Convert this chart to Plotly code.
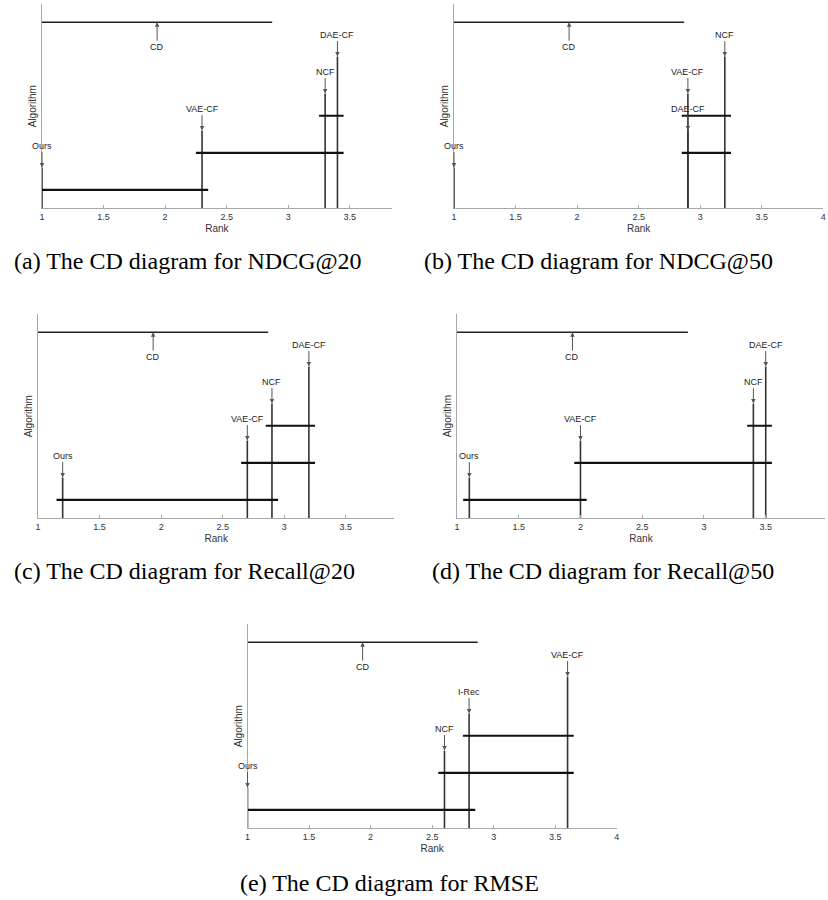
import plotly.graph_objects as go

# ---------------- data ----------------
cd_value = 1.87

a_names = ["Ours", "VAE-CF", "NCF", "DAE-CF"]
a_ranks = [1.0, 2.3, 3.3, 3.4]
a_clique_end = [2.3, 3.4, 3.4, None]

b_names = ["Ours", "DAE-CF", "VAE-CF", "NCF"]
b_ranks = [1.0, 2.9, 2.9, 3.2]
b_clique_end = [None, 3.2, 3.2, None]

c_names = ["Ours", "VAE-CF", "NCF", "DAE-CF"]
c_ranks = [1.2, 2.7, 2.9, 3.2]
c_clique_end = [2.9, 3.2, 3.2, None]

d_names = ["Ours", "VAE-CF", "NCF", "DAE-CF"]
d_ranks = [1.1, 2.0, 3.4, 3.5]
d_clique_end = [2.0, 3.5, 3.5, None]

e_names = ["Ours", "NCF", "I-Rec", "VAE-CF"]
e_ranks = [1.0, 2.6, 2.8, 3.6]
e_clique_end = [2.8, 3.6, 3.6, None]

captions = [
    "(a) The CD diagram for NDCG@20",
    "(b) The CD diagram for NDCG@50",
    "(c) The CD diagram for Recall@20",
    "(d) The CD diagram for Recall@50",
    "(e) The CD diagram for RMSE",
]
tick_vals = [1, 1.5, 2, 2.5, 3, 3.5, 4]
tick_text = ["1", "1.5", "2", "2.5", "3", "3.5", "4"]

# ---------------- layout constants ----------------
W, H = 828, 900
# (x0, x1, ytop, ybottom) in pixels, x max of the rank axis
boxes = [
    (39.3, 391.7, 4.0, 208.3, 3.842),
    (454.3, 826.3, 4.0, 208.3, 4.0),
    (35.3, 394.3, 314.0, 518.3, 3.895),
    (457.3, 828.0, 314.0, 518.3, 3.98),
    (246.3, 618.3, 624.0, 828.3, 4.0),
]
caption_pos = [(9, 261), (422, 261), (9, 571), (430, 571), (237, 883)]
Y_TOP = 5.52
CD_LEVEL = 5.03
TIP_OFFSET = 1.1
PAD = 0.05

panels = [
    (a_names, a_ranks, a_clique_end),
    (b_names, b_ranks, b_clique_end),
    (c_names, c_ranks, c_clique_end),
    (d_names, d_ranks, d_clique_end),
    (e_names, e_ranks, e_clique_end),
]

fig = go.Figure()
annotations = []
font_sans = "Liberation Sans, Arial, sans-serif"

for k, ((names, ranks, cend), (x0, x1, yt, yb, xmax)) in enumerate(zip(panels, boxes)):
    sfx = "" if k == 0 else str(k + 1)
    xa, ya = "x" + sfx, "y" + sfx

    # vertical rank lines
    vx, vy = [], []
    for i, r in enumerate(ranks):
        vx += [r, r, None]
        vy += [0, i + TIP_OFFSET, None]
    fig.add_trace(go.Scatter(x=vx, y=vy, mode="lines", xaxis=xa, yaxis=ya,
                             line=dict(color="#333333", width=1.6),
                             hoverinfo="skip", showlegend=False))
    # clique bars
    cx, cy = [], []
    for i, (r, e) in enumerate(zip(ranks, cend)):
        if e is None:
            continue
        cx += [r - PAD, e + PAD, None]
        cy += [i + 0.5, i + 0.5, None]
    fig.add_trace(go.Scatter(x=cx, y=cy, mode="lines", xaxis=xa, yaxis=ya,
                             line=dict(color="#111111", width=2.2),
                             hoverinfo="skip", showlegend=False))
    # CD bar
    fig.add_trace(go.Scatter(x=[1, 1 + cd_value], y=[CD_LEVEL, CD_LEVEL], mode="lines",
                             xaxis=xa, yaxis=ya, line=dict(color="#222222", width=1.5),
                             hoverinfo="skip", showlegend=False))

    # labels with arrows
    for i, (nm, r) in enumerate(zip(names, ranks)):
        annotations.append(dict(
            x=r, y=i + TIP_OFFSET, xref=xa, yref=ya, text=nm, showarrow=True,
            ax=0, ay=-22, arrowhead=2, arrowsize=0.9, arrowwidth=1,
            arrowcolor="#555555", font=dict(family=font_sans, size=9, color="#222222")))
    annotations.append(dict(
        x=1 + cd_value / 2, y=CD_LEVEL, xref=xa, yref=ya, text="CD", showarrow=True,
        ax=0, ay=25, arrowhead=2, arrowsize=0.9, arrowwidth=1,
        arrowcolor="#555555", font=dict(family=font_sans, size=9, color="#222222")))

    fig.layout["xaxis" + sfx] = dict(
        domain=[x0 / W, x1 / W], range=[1, xmax], anchor=ya,
        showline=True, linecolor="#a8a8a8", linewidth=1, mirror=False,
        showgrid=False, zeroline=False,
        ticks="inside", ticklen=3, tickcolor="#a8a8a8",
        tickvals=tick_vals, ticktext=tick_text,
        tickfont=dict(family=font_sans, size=9, color="#333333"),
        title=dict(text="Rank", standoff=3,
                   font=dict(family=font_sans, size=10, color="#333333")),
        fixedrange=True)
    fig.layout["yaxis" + sfx] = dict(
        domain=[1 - yb / H, 1 - yt / H], range=[0, Y_TOP], anchor=xa,
        showline=True, linecolor="#a8a8a8", linewidth=1,
        showgrid=False, zeroline=False, showticklabels=False, ticks="",
        title=dict(text="Algorithm", standoff=2,
                   font=dict(family=font_sans, size=10, color="#333333")),
        fixedrange=True)

for cap, (cx_, cy_) in zip(captions, caption_pos):
    annotations.append(dict(
        x=cx_ / W, y=1 - cy_ / H, xref="paper", yref="paper", text=cap,
        showarrow=False, xanchor="left", yanchor="middle",
        font=dict(family="Liberation Serif, Times New Roman, serif", size=24, color="#000000")))

fig.update_layout(
    width=W, height=H, margin=dict(l=0, r=0, t=0, b=0),
    paper_bgcolor="white", plot_bgcolor="white",
    annotations=annotations, showlegend=False)

fig.write_html("out.html", config={"displayModeBar": False},
               post_script="document.body.style.margin='0';document.body.style.overflow='hidden';")
